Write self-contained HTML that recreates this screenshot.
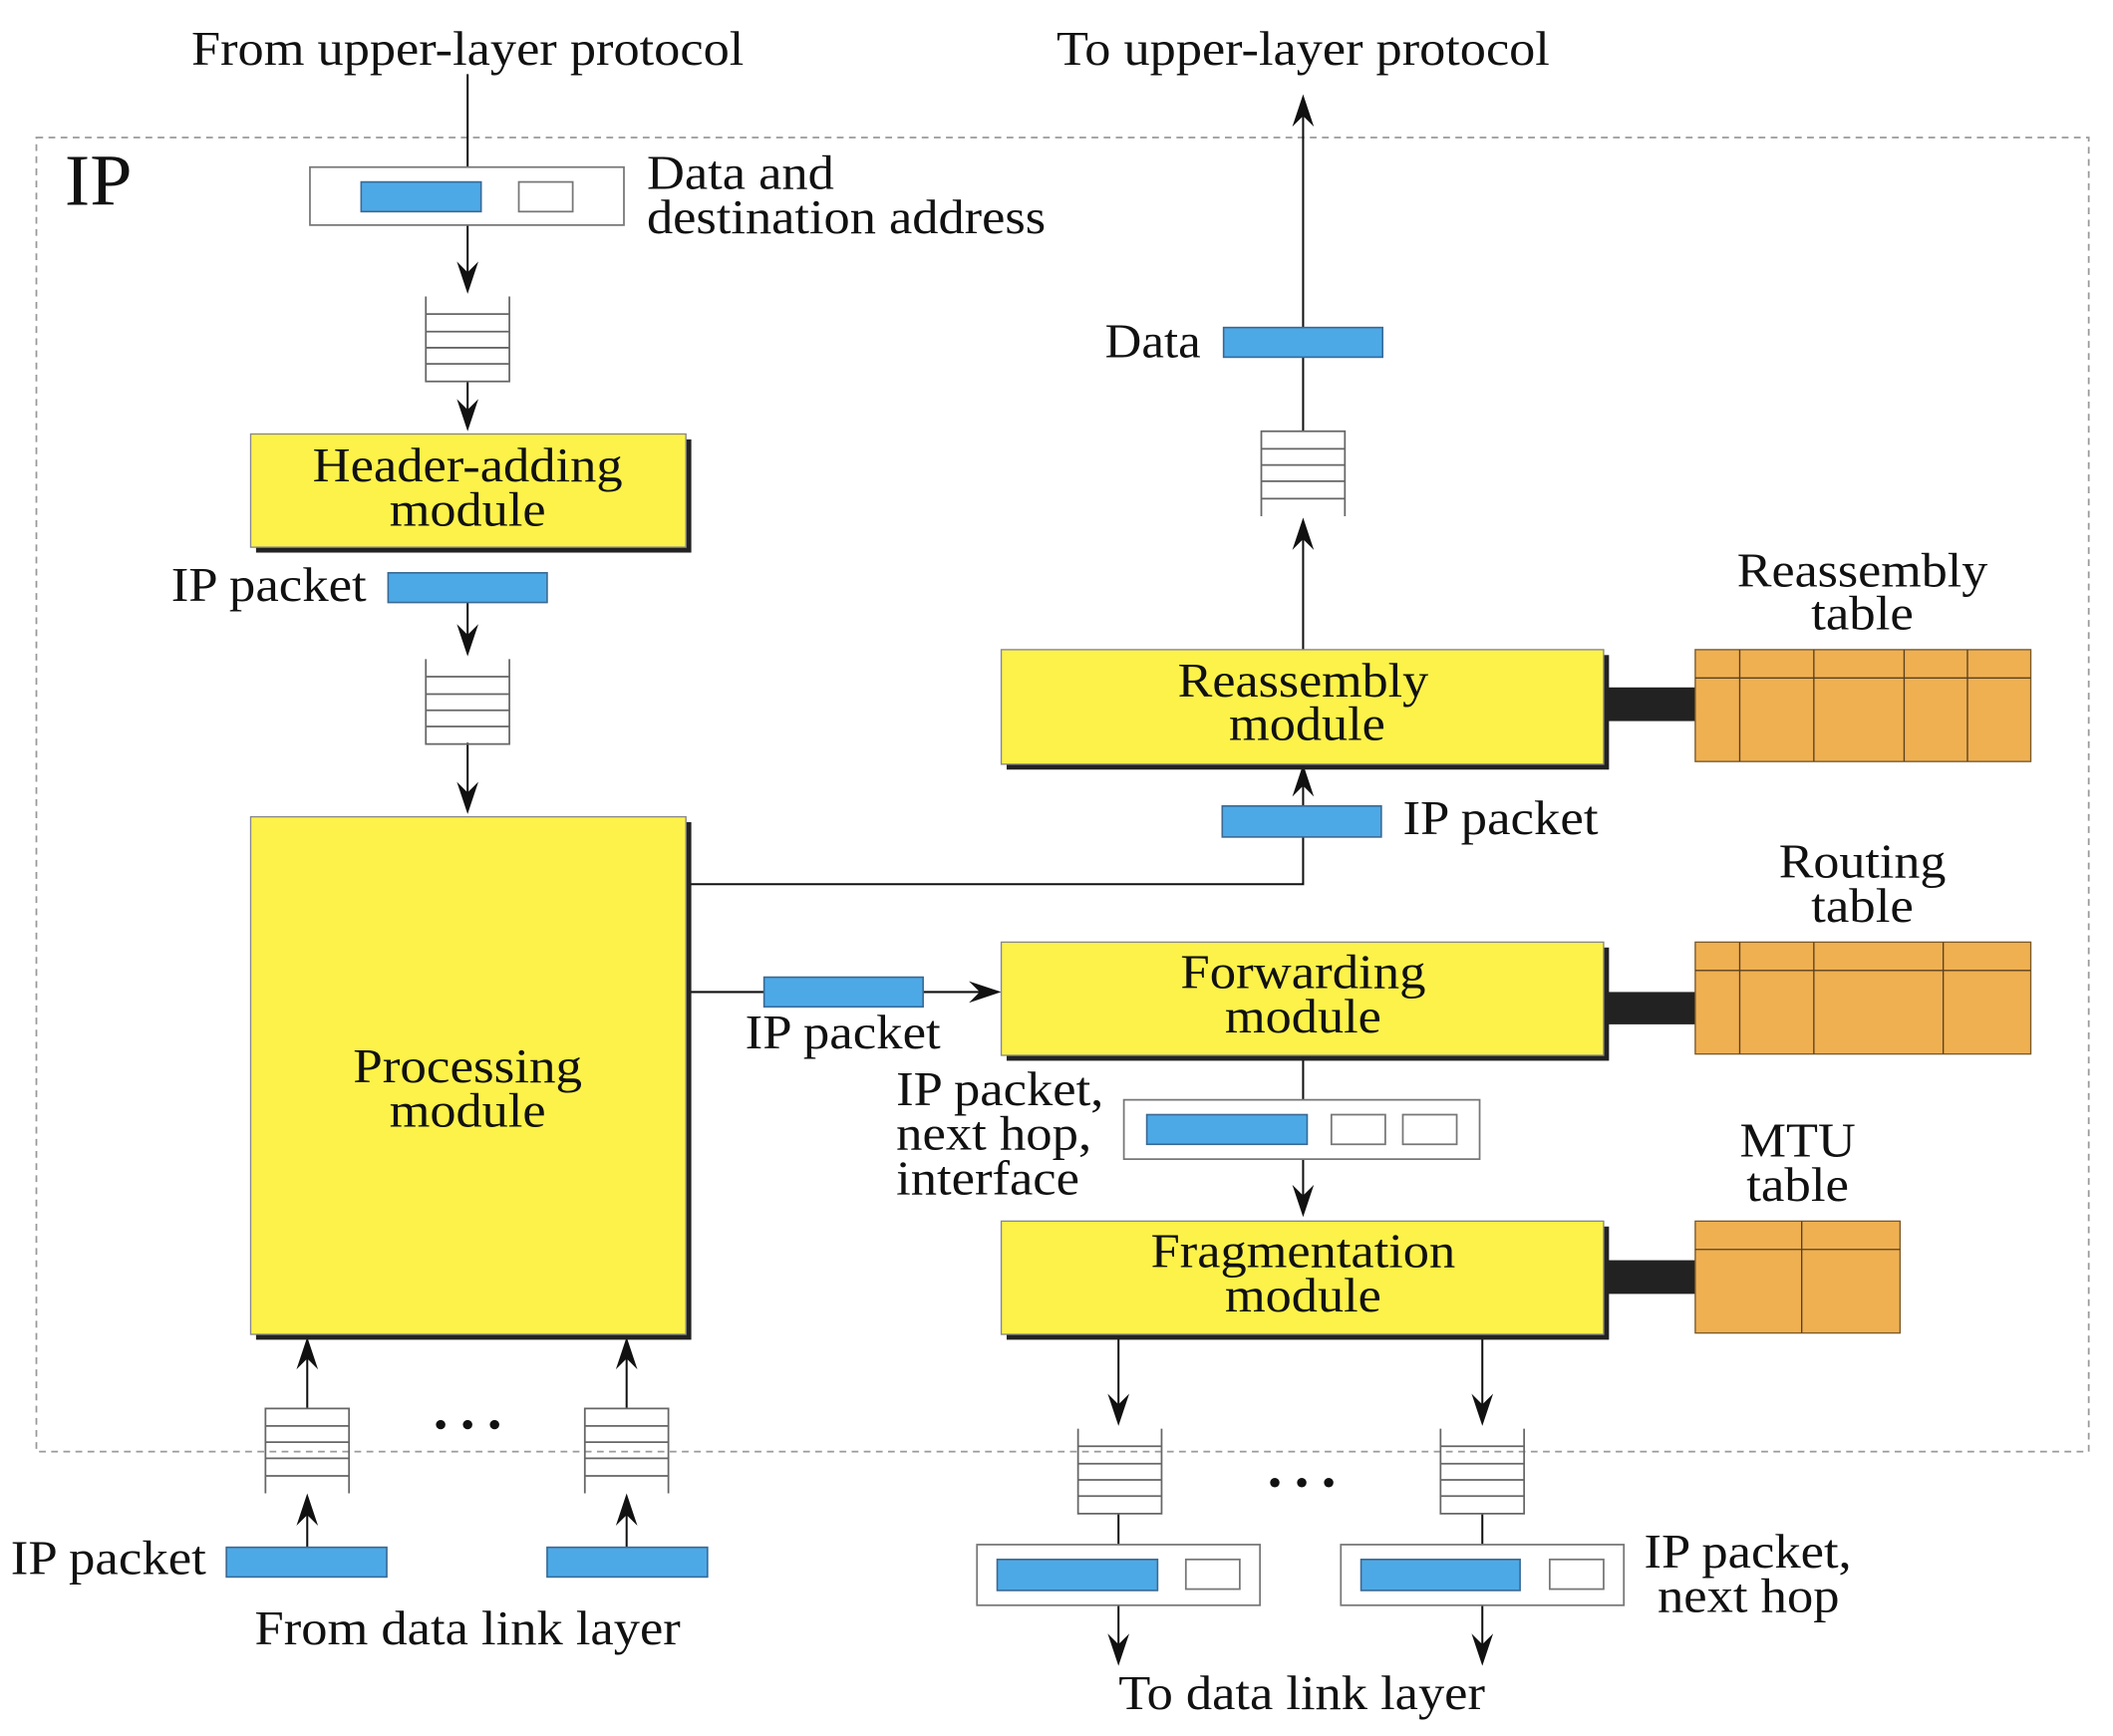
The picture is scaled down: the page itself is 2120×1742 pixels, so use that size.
<!DOCTYPE html>
<html><head><meta charset="utf-8"><style>html,body{margin:0;padding:0;background:#fff}svg{display:block}text{font-family:"Liberation Serif",serif;fill:#111}</style></head><body>
<svg width="2120" height="1742" viewBox="0 0 1568 1288" preserveAspectRatio="none" xmlns="http://www.w3.org/2000/svg">
<defs>
<path id="ad" d="M0,0 L-8,-24 L0,-16 L8,-24 Z" fill="#111"/>
<path id="au" d="M0,0 L-8,24 L0,16 L8,24 Z" fill="#111"/>
<path id="ar" d="M0,0 L-24,-8 L-16,0 L-24,8 Z" fill="#111"/>
<g id="qd" stroke="#666" stroke-width="1.3" fill="none"><path d="M0,0 V63 H62 V0"/><path d="M0,13 H62 M0,26 H62 M0,38 H62 M0,50 H62"/></g>
<g id="qu" stroke="#666" stroke-width="1.3" fill="none"><path d="M0,63 V0 H62 V63"/><path d="M0,13 H62 M0,25 H62 M0,37 H62 M0,50 H62"/></g>
</defs>
<g stroke="#111" stroke-width="1.5" fill="none">
<rect x="27" y="102" width="1523" height="975" stroke="#999" stroke-dasharray="5,4" stroke-width="1.3"/>
<path d="M347,55 V124 M347,167 V210 M347,283 V312 M347,447 V478 M347,551 V596"/>
<path d="M509,656 H967 V576"/>
<path d="M967,482 V392 M967,320 V80"/>
<path d="M509,736 H734"/>
<path d="M967,783 V816 M967,860 V895"/>
<path d="M830,990 V1050 M1100,990 V1050 M830,1123 V1146 M1100,1123 V1146 M830,1191 V1228 M1100,1191 V1228"/>
<path d="M228,1148 V1117 M228,1045 V1000 M465,1148 V1117 M465,1045 V1000"/>
</g>
<use href="#ad" x="347" y="218"/><use href="#ad" x="347" y="320"/><use href="#ad" x="347" y="487"/><use href="#ad" x="347" y="604"/>
<use href="#au" x="967" y="567"/><use href="#au" x="967" y="384"/><use href="#au" x="967" y="70"/>
<use href="#ar" x="743" y="736"/>
<use href="#ad" x="967" y="903"/>
<use href="#ad" x="830" y="1058"/><use href="#ad" x="1100" y="1058"/><use href="#ad" x="830" y="1236"/><use href="#ad" x="1100" y="1236"/>
<use href="#au" x="228" y="1108"/><use href="#au" x="465" y="1108"/><use href="#au" x="228" y="992"/><use href="#au" x="465" y="992"/>
<use href="#qd" x="316" y="220"/><use href="#qd" x="316" y="489"/>
<use href="#qu" x="936" y="320"/>
<use href="#qd" x="800" y="1060"/><use href="#qd" x="1069" y="1060"/>
<use href="#qu" x="197" y="1045"/><use href="#qu" x="434" y="1045"/>
<g stroke="#777" stroke-width="1.3" fill="#fff">
<rect x="230" y="124" width="233" height="43"/><rect x="385" y="135" width="40" height="22"/>
<rect x="834" y="816" width="264" height="44"/><rect x="988" y="827" width="40" height="22"/><rect x="1041" y="827" width="40" height="22"/>
<rect x="725" y="1146" width="210" height="45"/><rect x="880" y="1157" width="40" height="22"/>
<rect x="995" y="1146" width="210" height="45"/><rect x="1150" y="1157" width="40" height="22"/>
</g>
<g fill="#4da9e6" stroke="#3a6a95" stroke-width="1.2">
<rect x="268" y="135" width="89" height="22"/><rect x="288" y="425" width="118" height="22"/>
<rect x="908" y="243" width="118" height="22"/><rect x="907" y="598" width="118" height="23"/>
<rect x="567" y="725" width="118" height="22"/><rect x="851" y="827" width="119" height="22"/>
<rect x="740" y="1157" width="119" height="23"/><rect x="1010" y="1157" width="118" height="23"/>
<rect x="168" y="1148" width="119" height="22"/><rect x="406" y="1148" width="119" height="22"/>
</g>
<g fill="#222"><rect x="190" y="326" width="323" height="84"/><rect x="190" y="610" width="323" height="384"/><rect x="747" y="486" width="447" height="85"/><rect x="747" y="703" width="447" height="84"/><rect x="747" y="910" width="447" height="84"/>
<rect x="1190" y="510" width="68" height="25"/><rect x="1190" y="736" width="68" height="24"/><rect x="1190" y="935" width="68" height="25"/></g>
<g fill="#fcf24a" stroke="#888" stroke-width="1"><rect x="186" y="322" width="323" height="84"/><rect x="186" y="606" width="323" height="384"/><rect x="743" y="482" width="447" height="85"/><rect x="743" y="699" width="447" height="84"/><rect x="743" y="906" width="447" height="84"/></g>
<g fill="#efb052" stroke="#7a5a2a" stroke-width="1"><rect x="1258" y="482" width="249" height="83"/><rect x="1258" y="699" width="249" height="83"/><rect x="1258" y="906" width="152" height="83"/></g>
<path d="M1258,503 H1507 M1291,482 V565 M1346,482 V565 M1413,482 V565 M1460,482 V565 M1258,720 H1507 M1291,699 V782 M1346,699 V782 M1442,699 V782 M1258,927 H1410 M1337,906 V989" stroke="#5a4020" stroke-width="1"/>
<g fill="#111"><circle cx="327" cy="1057" r="3.5"/><circle cx="347" cy="1057" r="3.5"/><circle cx="367" cy="1057" r="3.5"/><circle cx="946" cy="1100" r="3.5"/><circle cx="966" cy="1100" r="3.5"/><circle cx="986" cy="1100" r="3.5"/></g>
<g font-size="36">
<text x="347" y="48" text-anchor="middle" textLength="410" lengthAdjust="spacingAndGlyphs">From upper-layer protocol</text>
<text x="967" y="48" text-anchor="middle" textLength="366" lengthAdjust="spacingAndGlyphs">To upper-layer protocol</text>
<text x="48" y="152" font-size="54" textLength="50" lengthAdjust="spacingAndGlyphs">IP</text>
<text x="480" y="140" textLength="139" lengthAdjust="spacingAndGlyphs">Data and</text>
<text x="480" y="173" textLength="296" lengthAdjust="spacingAndGlyphs">destination address</text>
<text x="347" y="357" text-anchor="middle" textLength="230" lengthAdjust="spacingAndGlyphs">Header-adding</text>
<text x="347" y="390" text-anchor="middle" textLength="116" lengthAdjust="spacingAndGlyphs">module</text>
<text x="127" y="446" textLength="145" lengthAdjust="spacingAndGlyphs">IP packet</text>
<text x="820" y="265" textLength="71" lengthAdjust="spacingAndGlyphs">Data</text>
<text x="347" y="803" text-anchor="middle" textLength="170" lengthAdjust="spacingAndGlyphs">Processing</text>
<text x="347" y="836" text-anchor="middle" textLength="116" lengthAdjust="spacingAndGlyphs">module</text>
<text x="967" y="517" text-anchor="middle" textLength="186" lengthAdjust="spacingAndGlyphs">Reassembly</text>
<text x="970" y="549" text-anchor="middle" textLength="116" lengthAdjust="spacingAndGlyphs">module</text>
<text x="1382" y="435" text-anchor="middle" textLength="186" lengthAdjust="spacingAndGlyphs">Reassembly</text>
<text x="1382" y="467" text-anchor="middle" textLength="76" lengthAdjust="spacingAndGlyphs">table</text>
<text x="1041" y="619" textLength="145" lengthAdjust="spacingAndGlyphs">IP packet</text>
<text x="1382" y="651" text-anchor="middle" textLength="124" lengthAdjust="spacingAndGlyphs">Routing</text>
<text x="1382" y="684" text-anchor="middle" textLength="76" lengthAdjust="spacingAndGlyphs">table</text>
<text x="967" y="733" text-anchor="middle" textLength="182" lengthAdjust="spacingAndGlyphs">Forwarding</text>
<text x="967" y="766" text-anchor="middle" textLength="116" lengthAdjust="spacingAndGlyphs">module</text>
<text x="553" y="778" textLength="145" lengthAdjust="spacingAndGlyphs">IP packet</text>
<text x="665" y="820" textLength="154" lengthAdjust="spacingAndGlyphs">IP packet,</text>
<text x="665" y="853" textLength="145" lengthAdjust="spacingAndGlyphs">next hop,</text>
<text x="665" y="886" textLength="136" lengthAdjust="spacingAndGlyphs">interface</text>
<text x="1334" y="858" text-anchor="middle" textLength="86" lengthAdjust="spacingAndGlyphs">MTU</text>
<text x="1334" y="891" text-anchor="middle" textLength="76" lengthAdjust="spacingAndGlyphs">table</text>
<text x="967" y="940" text-anchor="middle" textLength="226" lengthAdjust="spacingAndGlyphs">Fragmentation</text>
<text x="967" y="973" text-anchor="middle" textLength="116" lengthAdjust="spacingAndGlyphs">module</text>
<text x="8" y="1168" textLength="145" lengthAdjust="spacingAndGlyphs">IP packet</text>
<text x="347" y="1220" text-anchor="middle" textLength="316" lengthAdjust="spacingAndGlyphs">From data link layer</text>
<text x="1220" y="1163" textLength="154" lengthAdjust="spacingAndGlyphs">IP packet,</text>
<text x="1230" y="1196" textLength="135" lengthAdjust="spacingAndGlyphs">next hop</text>
<text x="966" y="1268" text-anchor="middle" textLength="272" lengthAdjust="spacingAndGlyphs">To data link layer</text>
</g>
</svg>
</body></html>
